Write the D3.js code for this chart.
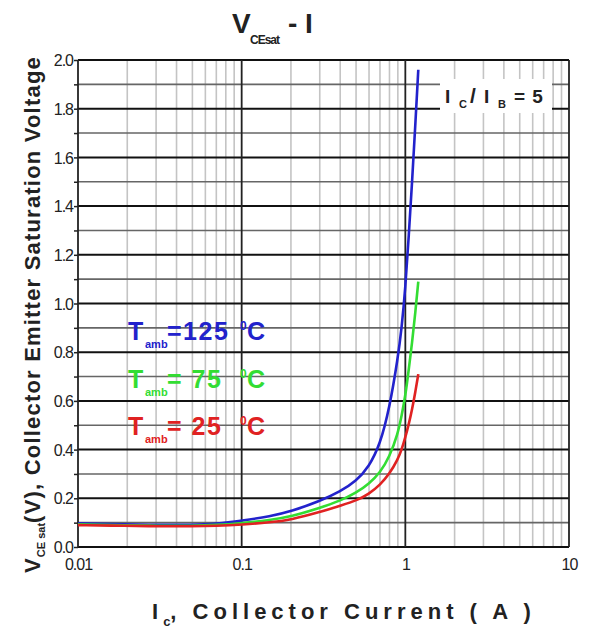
<!DOCTYPE html>
<html>
<head>
<meta charset="utf-8">
<script src="https://cdn.jsdelivr.net/npm/d3@7"></script>
<style>
  body { margin: 0; background: #fff; }
  text { font-family: Arial, "Liberation Sans", sans-serif; }
</style>
</head>
<body>
<div id="chart"></div>
<script>
// Data
const currents = [0.01, 0.02, 0.03, 0.05, 0.07, 0.1, 0.15, 0.2, 0.3, 0.4, 0.5, 0.6, 0.7, 0.8, 0.9, 0.95, 1.0, 1.05, 1.1, 1.15, 1.2];
const vce125 = [0.097, 0.093, 0.091, 0.091, 0.095, 0.108, 0.126, 0.146, 0.188, 0.228, 0.27, 0.33, 0.42, 0.57, 0.775, 0.90, 1.06, 1.28, 1.50, 1.73, 1.96];
const vce75 = [0.093, 0.089, 0.087, 0.087, 0.090, 0.098, 0.111, 0.125, 0.160, 0.190, 0.222, 0.26, 0.305, 0.37, 0.465, 0.54, 0.62, 0.73, 0.84, 0.96, 1.09];
const vce25 = [0.090, 0.087, 0.085, 0.085, 0.087, 0.092, 0.101, 0.112, 0.143, 0.170, 0.190, 0.218, 0.255, 0.30, 0.36, 0.40, 0.45, 0.505, 0.565, 0.635, 0.71];
const xTicks = [0.01, 0.1, 1, 10];
const xTickLabels = ["0.01", "0.1", "1", "10"];
const yTicks = d3.range(0, 2.01, 0.2);

const W = 593, H = 637;
const plot = { left: 78, right: 569, top: 60, bottom: 547 };

const svg = d3.select("#chart").append("svg")
  .attr("width", W)
  .attr("height", H);

const x = d3.scaleLog().domain([0.01, 10]).range([plot.left, plot.right]);
const y = d3.scaleLinear().domain([0, 2]).range([plot.bottom, plot.top]);

// Vertical grid: minor lines for 2..9 of each decade, then decades
const minorX = [];
[0.01, 0.1, 1].forEach(d => { for (let k = 2; k <= 9; k++) minorX.push(d * k); });
svg.append("g").selectAll("line")
  .data(minorX)
  .enter().append("line")
  .attr("x1", d => x(d)).attr("x2", d => x(d))
  .attr("y1", plot.top).attr("y2", plot.bottom)
  .attr("stroke", "#c4c4c4")
  .attr("stroke-width", 1.6);

// Horizontal grid
const minorY = d3.range(0.1, 2, 0.2);
svg.append("g").selectAll("line")
  .data(minorY)
  .enter().append("line")
  .attr("x1", plot.left).attr("x2", plot.right)
  .attr("y1", d => y(d)).attr("y2", d => y(d))
  .attr("stroke", "#666")
  .attr("stroke-width", 1.6);

svg.append("g").selectAll("line")
  .data(yTicks)
  .enter().append("line")
  .attr("x1", plot.left).attr("x2", plot.right)
  .attr("y1", d => y(d)).attr("y2", d => y(d))
  .attr("stroke", "#111")
  .attr("stroke-width", 2);

svg.append("g").selectAll("line")
  .data(xTicks)
  .enter().append("line")
  .attr("x1", d => x(d)).attr("x2", d => x(d))
  .attr("y1", plot.top).attr("y2", plot.bottom)
  .attr("stroke", "#222")
  .attr("stroke-width", 1.8);

// Y axis ticks and labels
const yAxis = svg.append("g")
  .attr("transform", `translate(${plot.left},0)`)
  .call(d3.axisLeft(y)
    .tickValues(d3.range(0, 2.01, 0.1))
    .tickSize(4)
    .tickFormat(d => Math.round(d * 10) % 2 === 0 ? d3.format(".1f")(d) : ""));
yAxis.select(".domain").remove();
yAxis.selectAll("line").attr("stroke", "#222").attr("stroke-width", 1.5);
yAxis.selectAll("text")
  .attr("x", -5)
  .attr("dy", "0.35em")
  .style("font-size", "16px")
  .style("letter-spacing", "-1px")
  .style("fill", "#222");

// X axis labels
const xAxis = svg.append("g")
  .attr("transform", `translate(0,${plot.bottom})`)
  .call(d3.axisBottom(x)
    .tickValues(xTicks)
    .tickSize(0)
    .tickFormat((d, i) => xTickLabels[i]));
xAxis.select(".domain").remove();
xAxis.selectAll("text")
  .attr("y", 12)
  .attr("dy", "0.71em")
  .style("font-size", "16px")
  .style("letter-spacing", "-1px")
  .style("fill", "#222");

// Curves
const line = d3.line()
  .x(d => x(d[0]))
  .y(d => y(d[1]))
  .curve(d3.curveBasis);

const series = [
  { values: vce125, color: "#2222cc" },
  { values: vce75, color: "#33dd33" },
  { values: vce25, color: "#e02222" }
];
series.forEach(s => {
  svg.append("path")
    .datum(currents.map((c, i) => [c, s.values[i]]))
    .attr("d", line)
    .attr("fill", "none")
    .attr("stroke", s.color)
    .attr("stroke-width", 2.6);
});

// Temperature labels
const tempLabels = [
  { temp: "=125", yv: 0.85, color: "#2222cc" },
  { temp: "= 75", yv: 0.655, color: "#33dd33" },
  { temp: "= 25", yv: 0.46, color: "#e02222" }
];
tempLabels.forEach(t => {
  const ty = y(t.yv);
  const txt = svg.append("text")
    .attr("y", ty)
    .style("font-size", "25px")
    .style("font-weight", "bold")
    .style("fill", t.color);
  txt.append("tspan").attr("x", 128).text("T");
  txt.append("tspan").attr("x", 145).attr("y", ty + 8).style("font-size", "11px").text("amb");
  txt.append("tspan").attr("x", 167).attr("y", ty).style("letter-spacing", "1.5px").text(t.temp);
  txt.append("tspan").attr("x", 240).attr("y", ty - 10).style("font-size", "12px").text("0");
  txt.append("tspan").attr("x", 247).attr("y", ty).text("C");
});

// IC/IB = 5 box
svg.append("rect")
  .attr("x", 440).attr("y", 79)
  .attr("width", 112).attr("height", 34)
  .attr("fill", "#fff");
const ratio = svg.append("text")
  .attr("y", 103)
  .style("font-size", "19px")
  .style("font-weight", "bold")
  .style("fill", "#222");
ratio.append("tspan").attr("x", 445).text("I");
ratio.append("tspan").attr("x", 459).attr("y", 108).style("font-size", "11px").text("C");
ratio.append("tspan").attr("x", 470).attr("y", 103).style("font-size", "21px").text("/");
ratio.append("tspan").attr("x", 484).attr("y", 103).text("I");
ratio.append("tspan").attr("x", 498).attr("y", 108).style("font-size", "11px").text("B");
ratio.append("tspan").attr("x", 514).attr("y", 103).style("letter-spacing", "1px").text("= 5");

// Title
const title = svg.append("text")
  .attr("y", 33)
  .style("font-size", "28px")
  .style("font-weight", "bold")
  .style("fill", "#222");
title.append("tspan").attr("x", 232).text("V");
title.append("tspan").attr("x", 250).attr("y", 44).style("font-size", "12px").style("letter-spacing", "-1px").text("CEsat");
title.append("tspan").attr("x", 288).attr("y", 33).text("- I");

// Y axis title
const yTitle = svg.append("text")
  .attr("transform", "translate(40,573) rotate(-90)")
  .style("font-size", "22px")
  .style("font-weight", "bold")
  .style("letter-spacing", "1.2px")
  .style("fill", "#222");
yTitle.append("tspan").text("V");
yTitle.append("tspan").attr("dy", 5).style("font-size", "11px").style("letter-spacing", "0px").text("CE sat");
yTitle.append("tspan").attr("dy", -5).text("(V), Collector Emitter Saturation Voltage");

// X axis title
const xTitle = svg.append("text")
  .attr("x", 152)
  .attr("y", 619)
  .style("font-size", "22px")
  .style("font-weight", "bold")
  .style("fill", "#222");
xTitle.append("tspan").text("I");
xTitle.append("tspan").attr("dx", 5).attr("dy", 7).style("font-size", "13px").text("c");
xTitle.append("tspan").attr("dy", -7).style("letter-spacing", "5px").text(", Collector Current ( A )");
</script>
</body>
</html>
